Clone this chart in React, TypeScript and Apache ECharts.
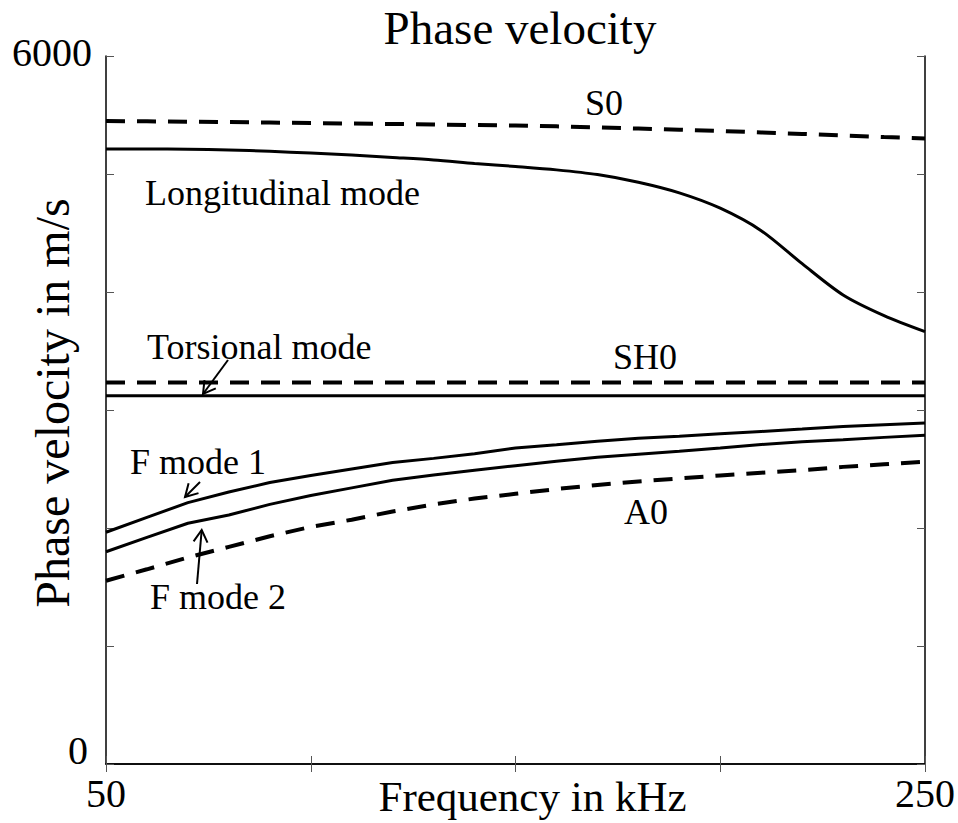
import React, { useEffect, useRef } from "react";
import * as echarts from "echarts";

const freq = [50, 60, 70, 80, 90, 100, 110, 120, 130, 140, 150, 160, 170, 180, 190, 200, 210, 220, 230, 240, 250];
const s0 = [5449, 5446, 5443, 5440, 5436, 5432, 5428, 5424, 5420, 5415, 5411, 5404, 5395, 5385, 5375, 5365, 5352, 5340, 5326, 5313, 5301];
const longitudinal = [5212, 5212, 5210, 5204, 5192, 5178, 5160, 5140, 5119, 5090, 5064, 5035, 4995, 4930, 4840, 4710, 4520, 4240, 3975, 3800, 3664];
const flatFreq = [50, 250];
const sh0 = [3234, 3234];
const torsional = [3121, 3121];
const fMode1 = [1964, 2090, 2215, 2305, 2385, 2445, 2500, 2555, 2590, 2630, 2678, 2705, 2735, 2760, 2778, 2798, 2818, 2838, 2860, 2875, 2890];
const fMode2 = [1799, 1920, 2040, 2110, 2200, 2275, 2340, 2405, 2450, 2490, 2528, 2565, 2600, 2625, 2650, 2678, 2708, 2730, 2748, 2768, 2786];
const a0 = [1553, 1650, 1750, 1840, 1930, 2010, 2070, 2140, 2200, 2250, 2290, 2330, 2365, 2395, 2420, 2445, 2468, 2490, 2518, 2540, 2561];

const xTickLabels = [50, 250];
const yTickLabels = [0, 6000];

const FONT = "Liberation Serif";

function pairs(xs: number[], ys: number[]) {
  return xs.map((x, i) => [x, ys[i]]);
}

export default function App() {
  const ref = useRef<HTMLDivElement>(null);
  useEffect(() => {
    if (!ref.current) return;
    const chart = echarts.init(ref.current, undefined, { renderer: "svg" });
    const solid = { color: "#000", width: 3, type: "solid" as const };
    const dashed = { color: "#000", width: 4, type: [19, 12] as any };
    const mk = (name: string, xs: number[], ys: number[], ls: any, smooth: number | boolean = false) => ({
      name,
      type: "line",
      data: pairs(xs, ys),
      symbol: "none",
      smooth,
      lineStyle: ls,
      z: 3,
    });
    const txt = (text: string, x: number, y: number, size = 36, align = "left") => ({
      type: "text",
      x,
      y,
      style: { text, font: `${size}px '${FONT}'`, fill: "#000", textAlign: align, textVerticalAlign: "middle" },
      z: 10,
    });
    const seg = (pts: number[][]) => ({
      type: "polyline",
      shape: { points: pts },
      style: { stroke: "#000", lineWidth: 2, fill: "none" },
      z: 10,
    });
    const axisCommon = {
      axisLine: { show: true, lineStyle: { color: "#000", width: 1.5 } },
      axisTick: { show: true, inside: true, length: 8, lineStyle: { color: "#555", width: 1 } },
      splitLine: { show: false },
    };
    chart.setOption({
      animation: false,
      backgroundColor: "#fff",
      title: {
        text: "Phase velocity",
        left: 515,
        top: -1,
        textAlign: "center",
        textStyle: { fontFamily: FONT, fontSize: 47, fontWeight: "normal", color: "#000" },
      },
      grid: { left: 106, right: 33, top: 56, bottom: 59, containLabel: false, outerBoundsMode: "none" },
      xAxis: [
        {
          type: "value",
          min: 50,
          max: 250,
          interval: 50,
          position: "bottom",
          name: "Frequency in kHz",
          nameLocation: "middle",
          nameGap: 11,
          nameMoveOverlap: false,
          nameTextStyle: { fontFamily: FONT, fontSize: 43, color: "#000", verticalAlign: "top", padding: [0, 0, 0, 34] },
          axisLabel: {
            fontFamily: FONT,
            fontSize: 40,
            color: "#000",
            margin: 9,
            formatter: (v: number) => (xTickLabels.includes(v) ? String(v) : ""),
          },
          ...axisCommon,
        },
        {
          type: "value",
          min: 50,
          max: 250,
          interval: 50,
          position: "top",
          axisLabel: { show: false },
          ...axisCommon,
        },
      ],
      yAxis: [
        {
          type: "value",
          min: 0,
          max: 6000,
          interval: 1000,
          position: "left",
          name: "Phase velocity in m/s",
          nameLocation: "middle",
          nameGap: 54,
          nameMoveOverlap: false,
          nameTextStyle: { fontFamily: FONT, fontSize: 48, color: "#000", verticalAlign: "middle", padding: [0, 0, 0, 14] },
          axisLabel: {
            fontFamily: FONT,
            fontSize: 40,
            color: "#000",
            margin: 14,
            formatter: (v: number) => (v === yTickLabels[1] ? "{t|6000}" : v === yTickLabels[0] ? "{b|0}" : ""),
            rich: {
              t: { fontFamily: FONT, fontSize: 40, color: "#000", padding: [0, 0, 8, 0] },
              b: { fontFamily: FONT, fontSize: 40, color: "#000", padding: [0, 4, 28, 0] },
            },
          },
          ...axisCommon,
        },
        {
          type: "value",
          min: 0,
          max: 6000,
          interval: 1000,
          position: "right",
          axisLabel: { show: false },
          ...axisCommon,
        },
      ],
      series: [
        mk("S0", freq, s0, dashed),
        mk("Longitudinal mode", freq, longitudinal, solid, 0.3),
        mk("SH0", flatFreq, sh0, dashed),
        mk("Torsional mode", flatFreq, torsional, solid),
        mk("F mode 1", freq, fMode1, solid),
        mk("F mode 2", freq, fMode2, solid),
        mk("A0", freq, a0, dashed),
      ],
      graphic: [
        txt("S0", 585, 103),
        txt("Longitudinal mode", 145, 193),
        txt("Torsional mode", 147, 347),
        txt("SH0", 613, 357),
        txt("F mode 1", 130, 462),
        txt("A0", 624, 512),
        txt("F mode 2", 150, 597),
        seg([[228, 360], [203, 394]]),
        seg([[215.8, 388.3], [203, 394], [204.5, 380.1]]),
        seg([[200, 482], [185, 497]]),
        seg([[198.5, 493.1], [185, 497], [188.6, 483.2]]),
        seg([[197, 584], [201.7, 530]]),
        seg([[193.6, 541.4], [201.7, 530], [207.5, 542.7]]),
      ],
    });
    return () => chart.dispose();
  }, []);
  return <div ref={ref} style={{ width: 958, height: 823, position: "absolute", left: 0, top: 0 }} />;
}
